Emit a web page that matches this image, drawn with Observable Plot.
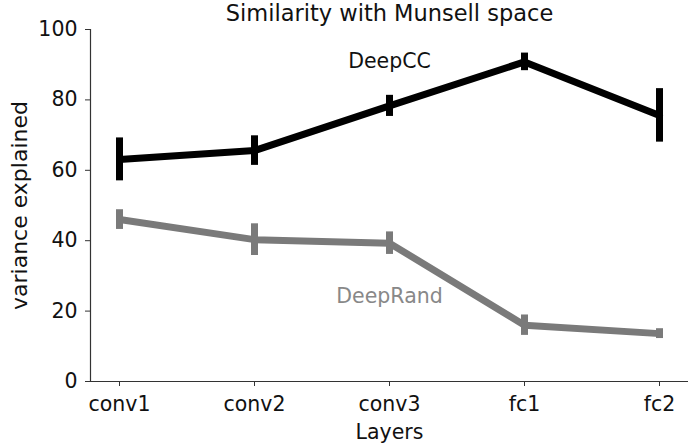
<!DOCTYPE html>
<html>
<head>
<meta charset="utf-8">
<script src="https://cdn.jsdelivr.net/npm/d3@7"></script>
<script src="https://cdn.jsdelivr.net/npm/@observablehq/plot@0.6"></script>
<style>
  html, body { margin: 0; padding: 0; background: white; }
</style>
</head>
<body>
<div id="chart"></div>
<script>
const title = "Similarity with Munsell space";
const layers = ["conv1", "conv2", "conv3", "fc1", "fc2"];
const seriesNames = ["DeepCC", "DeepRand"];
const seriesColors = ["#000000", "#7a7a7a"];
const labelColors = ["#111111", "#888888"];
const deepCC = [63.1, 65.6, 78.3, 90.8, 75.6];
const deepCCErr = [6.1, 4.2, 3.0, 2.5, 7.6];
const deepRand = [46.0, 40.3, 39.3, 16.0, 13.6];
const deepRandErr = [2.8, 4.5, 3.2, 2.9, 1.4];
const yTicks = [0, 20, 40, 60, 80, 100];
const labelLayer = ["conv3", "conv3"];
const labelValue = [90.8, 24.1];
const xLabel = "Layers";
const yLabel = "variance explained";

const values = [deepCC, deepRand];
const errs = [deepCCErr, deepRandErr];
const data = [];
seriesNames.forEach((s, i) => {
  layers.forEach((l, j) => {
    data.push({series: s, layer: l, value: values[i][j], err: errs[i][j]});
  });
});
const labels = seriesNames.map((s, i) => ({series: s, layer: labelLayer[i], value: labelValue[i]}));
const color = {domain: seriesNames, range: seriesColors};

const chart = Plot.plot({
  width: 693,
  height: 444,
  marginLeft: 90,
  marginRight: 5,
  marginTop: 29,
  marginBottom: 63,
  style: {fontFamily: "DejaVu Sans", fontSize: "20px", background: "white", color: "#111"},
  x: {type: "point", domain: layers, padding: 0.2},
  y: {domain: [0, 100]},
  color: color,
  marks: [
    Plot.frame({anchor: "left", stroke: "#333", strokeWidth: 1.2}),
    Plot.ruleY([0], {stroke: "#333", strokeWidth: 1.2}),
    Plot.axisY({ticks: yTicks, tickSize: 5, tickPadding: 8, label: null, fontSize: 20.5, stroke: "#333"}),
    Plot.axisX({tickSize: 5, tickPadding: 10, label: null, fontSize: 20.5, stroke: "#333"}),
    Plot.line(data, {x: "layer", y: "value", z: "series", stroke: "series", strokeWidth: 7, strokeLinejoin: "miter"}),
    Plot.ruleX(data, {x: "layer", y1: d => d.value - d.err, y2: d => d.value + d.err, stroke: "series", strokeWidth: 7}),
    Plot.text(labels, {x: "layer", y: "value", text: "series", fill: d => labelColors[seriesNames.indexOf(d.series)], fontSize: 20.5, lineAnchor: "middle"}),
    Plot.text([title], {frameAnchor: "top", dy: -15.5, fontSize: 22.5, lineAnchor: "middle", textAnchor: "middle", fill: "#111"}),
    Plot.text([xLabel], {frameAnchor: "bottom", dy: 50.5, fontSize: 20.5, lineAnchor: "middle", textAnchor: "middle", fill: "#111"}),
    Plot.text([yLabel], {frameAnchor: "left", dx: -71, rotate: -90, fontSize: 22, lineAnchor: "middle", textAnchor: "middle", fill: "#111"})
  ]
});
document.getElementById("chart").appendChild(chart);
</script>
</body>
</html>
